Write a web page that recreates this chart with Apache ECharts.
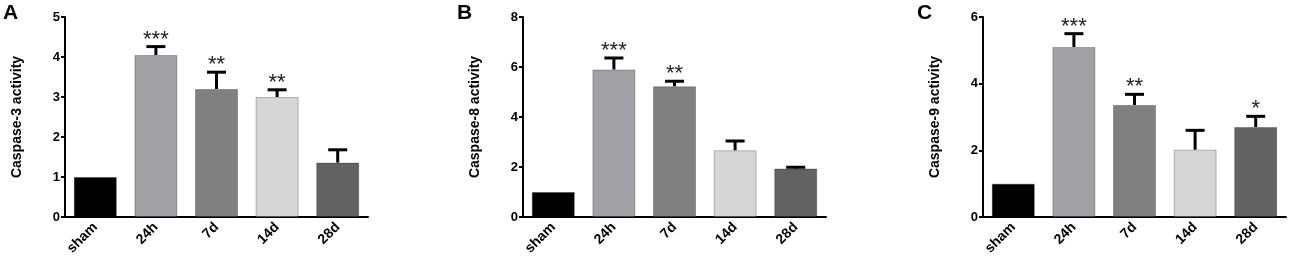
<!DOCTYPE html>
<html>
<head>
<meta charset="utf-8">
<script src="https://cdn.jsdelivr.net/npm/echarts@6/dist/echarts.min.js"></script>
<style>
html,body{margin:0;padding:0;background:#fff;}
#chart{width:1300px;height:277px;}
</style>
</head>
<body>
<div id="chart"></div>
<script>
const categories = ['sham', '24h', '7d', '14d', '28d'];
const barColors = ['#000000', '#a2a2a6', '#808080', '#d6d6d6', '#626262'];

const caspase3Mean = [1.0, 4.05, 3.2, 3.0, 1.36];
const caspase3Err  = [0, 0.21, 0.42, 0.18, 0.32];
const caspase3Sig  = ['', '***', '**', '**', ''];

const caspase8Mean = [1.0, 5.9, 5.23, 2.67, 1.94];
const caspase8Err  = [0, 0.46, 0.2, 0.37, 0.05];
const caspase8Sig  = ['', '***', '**', '', ''];

const caspase9Mean = [1.0, 5.1, 3.36, 2.02, 2.7];
const caspase9Err  = [0, 0.4, 0.32, 0.58, 0.32];
const caspase9Sig  = ['', '***', '**', '', '*'];

const panels = [
  {letter: 'A', name: 'Caspase-3 activity', mean: caspase3Mean, err: caspase3Err, sig: caspase3Sig, max: 5, interval: 1, left: 65},
  {letter: 'B', name: 'Caspase-8 activity', mean: caspase8Mean, err: caspase8Err, sig: caspase8Sig, max: 8, interval: 2, left: 523},
  {letter: 'C', name: 'Caspase-9 activity', mean: caspase9Mean, err: caspase9Err, sig: caspase9Sig, max: 6, interval: 2, left: 983}
];

const FONT = 'Arial, "Liberation Sans", sans-serif';
const chart = echarts.init(document.getElementById('chart'), null, {renderer: 'canvas'});

const grid = [], xAxis = [], yAxis = [], series = [], graphic = [];
const letterX = [3, 457, 917];

panels.forEach((p, i) => {
  grid.push({left: p.left, top: 17, width: 303, height: 200, containLabel: false});
  xAxis.push({
    type: 'category', gridIndex: i, data: categories,
    axisLine: {lineStyle: {color: '#000', width: 2}},
    axisTick: {alignWithLabel: true, length: 5, lineStyle: {color: '#000', width: 2}},
    axisLabel: {rotate: 45, margin: 8, color: '#000', fontWeight: 'bold', fontSize: 14, fontFamily: FONT, interval: 0},
    splitLine: {show: false}
  });
  yAxis.push({
    type: 'value', gridIndex: i, min: 0, max: p.max, interval: p.interval,
    name: p.name, nameLocation: 'middle', nameGap: 41,
    nameTextStyle: {color: '#000', fontWeight: 'bold', fontSize: 14, fontFamily: FONT},
    axisLine: {show: true, lineStyle: {color: '#000', width: 2}},
    axisTick: {show: true, length: 4, lineStyle: {color: '#000', width: 2}},
    axisLabel: {color: '#000', fontWeight: 'bold', fontSize: 13, fontFamily: FONT, margin: 5},
    splitLine: {show: false}
  });
  series.push({
    type: 'bar', xAxisIndex: i, yAxisIndex: i, barWidth: 43,
    data: p.mean.map((v, k) => ({value: v, itemStyle: {color: barColors[k], borderColor: 'rgba(0,0,0,0.25)', borderWidth: 1}})),
    z: 2
  });
  series.push({
    type: 'custom', xAxisIndex: i, yAxisIndex: i, z: 3,
    data: p.mean.map((v, k) => [k, v, p.err[k]]),
    renderItem: function (params, api) {
      const k = api.value(0), v = api.value(1), e = api.value(2);
      const sig = p.sig[k];
      const base = api.coord([k, v]);
      const top = api.coord([k, v + e]);
      const children = [];
      if (e > 0) {
        children.push({type: 'line', shape: {x1: base[0], y1: base[1], x2: top[0], y2: top[1]}, style: {stroke: '#000', lineWidth: 3}});
        children.push({type: 'line', shape: {x1: top[0] - 9.5, y1: top[1], x2: top[0] + 9.5, y2: top[1]}, style: {stroke: '#000', lineWidth: 3}});
      }
      if (sig) {
        children.push({type: 'text', style: {text: sig, x: top[0], y: top[1] + 4, textAlign: 'center', textVerticalAlign: 'bottom', fill: '#222', font: '22px ' + FONT}});
      }
      return {type: 'group', children: children};
    }
  });
  graphic.push({type: 'text', left: letterX[i], top: 3, style: {text: p.letter, fill: '#000', font: 'bold 21px ' + FONT}});
});

chart.setOption({
  animation: false,
  backgroundColor: '#fff',
  grid: grid, xAxis: xAxis, yAxis: yAxis, series: series, graphic: graphic
});
</script>
</body>
</html>
